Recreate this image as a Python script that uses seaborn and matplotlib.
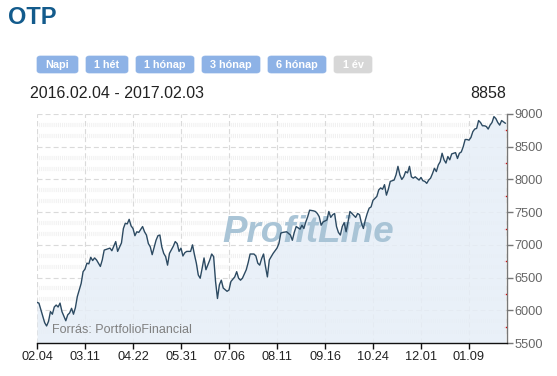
import matplotlib
matplotlib.use("Agg")
import matplotlib.pyplot as plt
from matplotlib.patches import FancyBboxPatch
from matplotlib.ticker import MultipleLocator, FixedLocator
import seaborn as sns
import pandas as pd

# ---------------- data ----------------
title = "OTP"
date_range = "2016.02.04 - 2017.02.03"
last_value = "8858"
buttons = ["Napi", "1 hét", "1 hónap", "3 hónap", "6 hónap", "1 év"]
source = "Forrás: PortfolioFinancial"
watermark = "ProfitLine"

tick_days = [0, 25, 50, 75, 100, 125, 150, 175, 200, 225]
tick_labels = ["02.04", "03.11", "04.22", "05.31", "07.06",
               "08.11", "09.16", "10.24", "12.01", "01.09"]

days = [0, 1, 4, 5, 6, 7, 8, 9, 10, 11, 12, 13, 15, 16, 17, 18, 19, 20, 21, 22,
        23, 24, 25, 26, 27, 28, 29, 30, 31, 33, 34, 35, 36, 38, 39, 40, 41, 42, 44, 45,
        46, 47, 48, 49, 50, 51, 52, 53, 55, 56, 57, 58, 59, 60, 62, 63, 64, 65, 66, 67,
        68, 69, 71, 72, 73, 74, 75, 76, 77, 78, 80, 81, 82, 83, 84, 85, 86, 87, 88, 90,
        91, 92, 93, 94, 95, 96, 97, 99, 100, 101, 103, 104, 105, 106, 107, 109, 110, 111, 113, 114,
        115, 116, 117, 118, 119, 120, 121, 122, 123, 125, 126, 127, 128, 130, 132, 133, 134, 135, 137, 138,
        139, 140, 141, 142, 144, 145, 146, 147, 148, 149, 151, 152, 153, 154, 155, 156, 157, 158, 159, 160,
        161, 162, 163, 164, 166, 167, 168, 169, 170, 171, 172, 173, 174, 175, 177, 178, 179, 180, 181, 182,
        183, 184, 186, 187, 188, 189, 190, 191, 192, 193, 194, 195, 196, 197, 199, 200, 201, 202, 203, 204,
        205, 206, 207, 208, 209, 210, 211, 212, 213, 214, 215, 216, 217, 218, 219, 220, 221, 222, 223, 224,
        225, 226, 227, 228, 229, 230, 231, 232, 233, 234, 235, 236, 237, 238, 239, 240, 241, 242, 243, 244]

close = [6120, 6110, 5810, 5760, 5830, 5980, 5940, 6050, 6080, 6050, 6110, 5980, 5840, 5930, 5960, 6030, 5940, 6040, 6210, 6310,
         6410, 6590, 6630, 6720, 6710, 6810, 6760, 6800, 6770, 6670, 6770, 6920, 6930, 6950, 6910, 6980, 7050, 6900, 7030, 7250,
         7330, 7320, 7390, 7290, 7250, 7140, 7200, 7190, 7280, 7200, 7150, 7020, 6970, 6850, 7070, 7140, 7150, 6970, 6870, 6820,
         6690, 6870, 6980, 7050, 7020, 6900, 6950, 6830, 6880, 6900, 6900, 7000, 6850, 6720, 6540, 6490, 6640, 6800, 6620, 6770,
         6860, 6820, 6440, 6180, 6390, 6460, 6340, 6290, 6310, 6440, 6510, 6590, 6490, 6460, 6490, 6620, 6730, 6860, 6860, 6830,
         6720, 6690, 6790, 6860, 6670, 6510, 6770, 6820, 6870, 6950, 7020, 7180, 7190, 7200, 7150, 7070, 7190, 7280, 7240, 7300,
         7250, 7350, 7430, 7530, 7520, 7510, 7480, 7430, 7300, 7350, 7380, 7510, 7420, 7460, 7480, 7280, 7190, 7150, 7280, 7340,
         7200, 7350, 7510, 7480, 7420, 7480, 7460, 7330, 7250, 7380, 7480, 7560, 7580, 7680, 7740, 7840, 7870, 7850, 7920, 7760,
         7850, 7970, 7990, 8070, 8200, 8070, 8000, 8040, 8120, 8100, 8200, 8040, 8020, 8040, 7990, 8030, 7980, 7970, 7940, 7990,
         8020, 8090, 8170, 8120, 8220, 8270, 8400, 8300, 8250, 8350, 8300, 8390, 8400, 8410, 8320, 8400, 8420, 8500, 8610, 8610,
         8600, 8640, 8730, 8770, 8780, 8900, 8870, 8820, 8820, 8810, 8770, 8830, 8870, 8960, 8930, 8870, 8830, 8900, 8880, 8858]

df = pd.DataFrame({"day": days, "close": close})

# ---------------- style ----------------
sns.set_style("white")
plt.rcParams["font.family"] = ["Liberation Sans", "DejaVu Sans"]
plt.rcParams["lines.scale_dashes"] = False

W, H = 557, 376
fig = plt.figure(figsize=(W / 100, H / 100), dpi=100)
fig.patch.set_facecolor("white")


def fx(x):
    return x / W


def fy(y):
    return 1 - y / H


ax = fig.add_axes([fx(37), fy(343), fx(507) - fx(37), fy(114) - fy(343)])
ax.set_facecolor("white")

ymin, ymax = 5500, 9000
ax.set_xlim(0, 244.8)
ax.set_ylim(ymin, ymax)

# background dotted bands
for base in range(ymin, ymax, 500):
    for frac in (1 / 3, 2 / 3):
        ax.axhline(base + 500 * frac, color="#f1f1f1", lw=3,
                   ls=(0, (0.75, 0.75)), zorder=0.5)
# major dashed grid
for v in range(ymin + 500, ymax + 1, 500):
    ax.axhline(v, color="#dadada", lw=0.8, ls=(0, (3.6, 2.2)), zorder=0.6)
for d in tick_days:
    ax.axvline(d, color="#dadada", lw=0.8, ls=(0, (3.6, 2.2)), zorder=0.6)

ax.fill_between(df["day"], df["close"], ymin, color="#e6eef7", alpha=0.85,
                lw=0, zorder=1)

ax.text(fx(222), fy(232), watermark, transform=fig.transFigure,
        fontsize=26.5, fontweight="bold", fontstyle="italic",
        color="#a9c4d6", ha="left", va="center", zorder=1.5)

sns.lineplot(data=df, x="day", y="close", ax=ax, color="#2c4a62",
             lw=1.0, zorder=3)

ax.set_xlabel("")
ax.set_ylabel("")

# axes
for s in ("top", "left"):
    ax.spines[s].set_visible(False)
ax.spines["bottom"].set_color("#111111")
ax.spines["bottom"].set_linewidth(1)
ax.spines["right"].set_color("#777777")
ax.spines["right"].set_linewidth(1)

ax.xaxis.set_major_locator(FixedLocator(tick_days))
ax.set_xticklabels(tick_labels)
ax.tick_params(axis="x", direction="out", length=4, width=1, color="#111111",
               labelsize=9.2, labelcolor="#222222", pad=2, bottom=True)

ax.yaxis.tick_right()
ax.yaxis.set_major_locator(MultipleLocator(500))
ax.yaxis.set_minor_locator(FixedLocator(list(range(ymin + 250, ymax, 500))))
ax.tick_params(axis="y", which="major", direction="out", length=4, width=1,
               color="#777777", labelsize=9.2, labelcolor="#666666", pad=1.5,
               right=True, left=False)
ax.tick_params(axis="y", which="minor", direction="in", length=2.5, width=1,
               color="#e00000", right=True, left=False)

ax.text(fx(52), fy(330), source, transform=fig.transFigure, fontsize=9,
        color="#808080", ha="left", va="center", zorder=4)

# header texts
fig.text(fx(8), fy(18), title, fontsize=17, fontweight="bold",
         color="#135b8c", ha="left", va="center")
fig.text(fx(30), fy(93), date_range, fontsize=11.5, color="#222222",
         ha="left", va="center")
fig.text(fx(506), fy(93), last_value, fontsize=11.5, color="#222222",
         ha="right", va="center")

# buttons
btn_x = [(37, 78), (86, 128), (136, 194), (202, 260), (268, 326), (334, 372)]
for (x0, x1), label in zip(btn_x, buttons):
    active = label != "1 év"
    face = "#8db2e6" if active else "#d7d7d7"
    box = FancyBboxPatch((fx(x0), fy(73)), fx(x1) - fx(x0), fy(56) - fy(73),
                         boxstyle="round,pad=0,rounding_size=0.006",
                         transform=fig.transFigure, facecolor=face,
                         edgecolor=face, lw=0.5)
    fig.add_artist(box)
    fig.text(fx((x0 + x1) / 2), fy(64.5), label, fontsize=7.8,
             fontweight="bold", color="white", ha="center", va="center")

fig.savefig("out.png", dpi=100, facecolor="white")
